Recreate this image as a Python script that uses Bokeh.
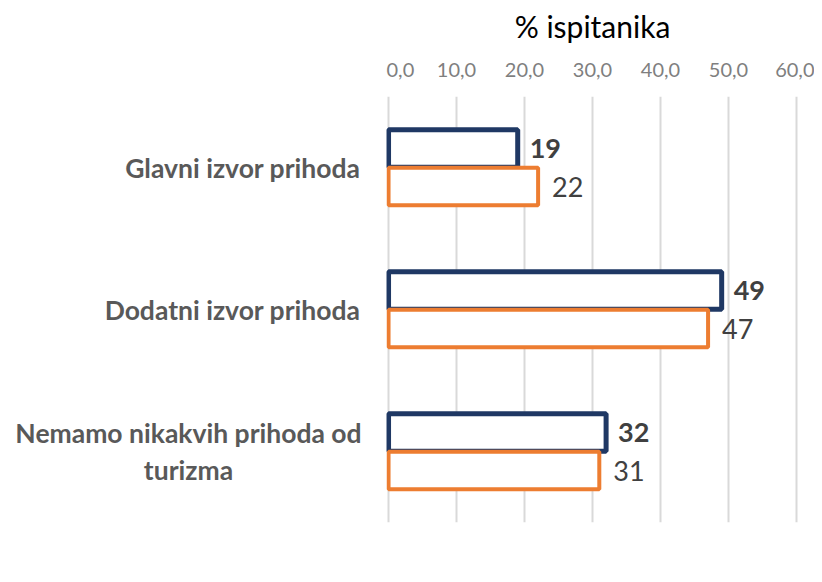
from bokeh.plotting import figure
from bokeh.layouts import row
from bokeh.models import (ColumnDataSource, Range1d, FixedTicker,
                          CustomJSTickFormatter)
from bokeh.transform import dodge
from bokeh.core.properties import value
from bokeh.embed import file_html
from bokeh.resources import INLINE

categories = ["Glavni izvor prihoda", "Dodatni izvor prihoda", "Nemamo nikakvih prihoda od\nturizma"]
series_navy = [19, 49, 32]
series_orange = [22, 47, 31]
x_ticks = [0, 10, 20, 30, 40, 50, 60]
axis_title = "% ispitanika"

FONT = "Lato"
NAVY = "#1F3864"
ORANGE = "#ED7D31"

n = len(categories)
centers = [i + 0.5 for i in range(n)]  # category slot centres (top to bottom)

src = ColumnDataSource(dict(
    yc=centers,
    navy=series_navy,
    orange=series_orange,
    navy_txt=[str(v) for v in series_navy],
    orange_txt=[str(v) for v in series_orange],
))

TOP, BOTTOM = 96, 52
LEFT_W = 386

p = figure(width=814 - LEFT_W, height=574, output_backend="svg", toolbar_location=None,
           y_range=Range1d(n, 0), x_range=Range1d(-0.3, 60.3), x_axis_location="above",
           min_border_left=0, min_border_right=16, min_border_top=TOP,
           min_border_bottom=BOTTOM)
p.outline_line_color = None
p.background_fill_color = "white"
p.border_fill_color = "white"

p.hbar(y=dodge("yc", -0.134), right="navy", left=0, height=0.265,
       source=src, fill_color="white", line_color=NAVY, line_width=5)
p.hbar(y=dodge("yc", 0.134), right="orange", left=0, height=0.265,
       source=src, fill_color="white", line_color=ORANGE, line_width=4)

p.text(x="navy", y=dodge("yc", -0.134), text="navy_txt", source=src,
       x_offset=12, text_baseline="middle", text_font=value(FONT), text_font_size="27px",
       text_font_style="bold", text_color="#404040")
p.text(x="orange", y=dodge("yc", 0.134), text="orange_txt", source=src,
       x_offset=14, text_baseline="middle", text_font=value(FONT), text_font_size="27px",
       text_color="#404040")

p.yaxis.visible = False
p.ygrid.visible = False
p.xgrid.grid_line_color = "#D9D9D9"
p.xgrid.grid_line_width = 2

ax = p.xaxis[0]
ax.ticker = FixedTicker(ticks=x_ticks)
ax.formatter = CustomJSTickFormatter(code="return tick.toFixed(1).replace('.', ',');")
ax.axis_line_color = None
ax.major_tick_line_color = None
ax.minor_tick_line_color = None
ax.major_label_text_font = FONT
ax.major_label_text_font_size = "20px"
ax.major_label_text_color = "#7F7F7F"
ax.major_label_standoff = 14
ax.axis_label = axis_title
ax.axis_label_text_font = FONT
ax.axis_label_text_font_size = "30px"
ax.axis_label_text_font_style = "normal"
ax.axis_label_text_color = "#000000"
ax.axis_label_standoff = 16

# left panel holding the category labels (shares the category scale)
left = figure(width=LEFT_W, height=574, output_backend="svg", toolbar_location=None,
              y_range=p.y_range, x_range=Range1d(0, LEFT_W),
              min_border_left=0, min_border_right=0, min_border_top=TOP,
              min_border_bottom=BOTTOM)
left.axis.visible = False
left.grid.visible = False
left.outline_line_color = None
lab_src = ColumnDataSource(dict(
    yc=centers,
    cat=categories,
    lx=[188 if "\n" in c else 360 for c in categories],
    align=["center" if "\n" in c else "right" for c in categories],
))
left.text(x="lx", y="yc", text="cat", source=lab_src, text_align="align",
          text_baseline="middle", text_font=value(FONT), text_font_size="26.5px",
          text_font_style="bold", text_color="#595959", text_line_height=1.15)

layout = row(left, p)
open("out.html", "w").write(file_html(layout, INLINE))
